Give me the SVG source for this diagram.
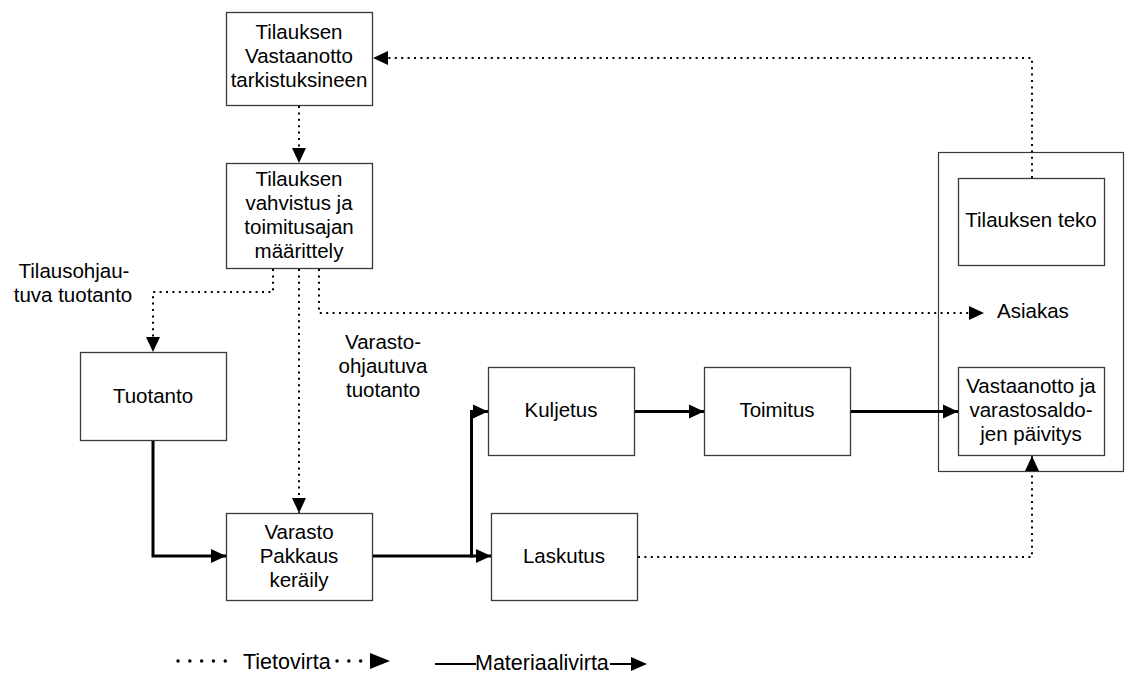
<svg xmlns="http://www.w3.org/2000/svg" width="1125" height="674" viewBox="0 0 1125 674">
  <style>
    .box { fill: #ffffff; stroke: #3a3a3a; stroke-width: 1.3; }
    .frame { fill: none; stroke: #3a3a3a; stroke-width: 1.2; }
    .lbl { font-family: "Liberation Sans", Arial, sans-serif; font-size: 20.5px; fill: #000; text-anchor: middle; }
    .lblL { font-family: "Liberation Sans", Arial, sans-serif; font-size: 20.5px; fill: #000; }
    .leg { font-family: "Liberation Sans", Arial, sans-serif; font-size: 21.5px; fill: #000; }
    .info { fill: none; stroke: #000; stroke-width: 2; stroke-dasharray: 2 4.4; }
    .mat { fill: none; stroke: #000; stroke-width: 3; }
  </style>
  <defs>
    <marker id="arrow" markerUnits="userSpaceOnUse" markerWidth="16" markerHeight="15" refX="15" refY="7.5" orient="auto">
      <path d="M0,0.5 L15,7.5 L0,14.5 z" fill="#000"/>
    </marker>
  </defs>

  <rect width="1125" height="674" fill="#ffffff"/>

  <!-- customer frame -->
  <g id="asiakas">
    <rect class="frame" x="938.5" y="152.5" width="185" height="319"/>
    <text class="lblL" x="997" y="318">Asiakas</text>
  </g>

  <g id="vastaanotto-tarkistus">
    <rect class="box" x="226.5" y="12.5" width="146" height="93"/>
    <text class="lbl" x="299" y="39">Tilauksen</text>
    <text class="lbl" x="299" y="63">Vastaanotto</text>
    <text class="lbl" x="299" y="87">tarkistuksineen</text>
  </g>

  <g id="vahvistus">
    <rect class="box" x="226.5" y="163.5" width="146" height="105"/>
    <text class="lbl" x="299" y="186">Tilauksen</text>
    <text class="lbl" x="299" y="210">vahvistus ja</text>
    <text class="lbl" x="299" y="234">toimitusajan</text>
    <text class="lbl" x="299" y="258">määrittely</text>
  </g>

  <g id="tuotanto">
    <rect class="box" x="80.5" y="352.5" width="146" height="88"/>
    <text class="lbl" x="153" y="403">Tuotanto</text>
  </g>

  <g id="varasto">
    <rect class="box" x="226.5" y="513.5" width="146" height="87"/>
    <text class="lbl" x="299" y="539">Varasto</text>
    <text class="lbl" x="299" y="563">Pakkaus</text>
    <text class="lbl" x="299" y="587">keräily</text>
  </g>

  <g id="kuljetus">
    <rect class="box" x="488.5" y="367.5" width="146" height="88"/>
    <text class="lbl" x="561" y="417">Kuljetus</text>
  </g>

  <g id="toimitus">
    <rect class="box" x="704.5" y="367.5" width="146" height="88"/>
    <text class="lbl" x="777" y="417">Toimitus</text>
  </g>

  <g id="laskutus">
    <rect class="box" x="491.5" y="513.5" width="146" height="87"/>
    <text class="lbl" x="564" y="563">Laskutus</text>
  </g>

  <g id="tilauksen-teko">
    <rect class="box" x="958.5" y="178.5" width="146" height="87"/>
    <text class="lbl" x="1031" y="227">Tilauksen teko</text>
  </g>

  <g id="vastaanotto-paivitys">
    <rect class="box" x="958.5" y="367.5" width="146" height="88"/>
    <text class="lbl" x="1031" y="393">Vastaanotto ja</text>
    <text class="lbl" x="1031" y="417">varastosaldo-</text>
    <text class="lbl" x="1031" y="441">jen päivitys</text>
  </g>

  <!-- free-standing labels -->
  <g id="labels">
    <text class="lbl" x="74" y="278">Tilausohjau-</text>
    <text class="lbl" x="73" y="302">tuva tuotanto</text>
    <text class="lbl" x="383" y="349">Varasto-</text>
    <text class="lbl" x="383" y="373">ohjautuva</text>
    <text class="lbl" x="383" y="397">tuotanto</text>
  </g>

  <g id="connectors">
    <!-- information flows (dotted) -->
    <path class="info" d="M1032,178 V58 H373" marker-end="url(#arrow)"/>
    <path class="info" d="M299,106 V163" marker-end="url(#arrow)"/>
    <path class="info" d="M273,269 V292 H153 V352" marker-end="url(#arrow)"/>
    <path class="info" d="M299,269 V513" marker-end="url(#arrow)"/>
    <path class="info" d="M319,269 V313 H984" marker-end="url(#arrow)"/>
    <path class="info" d="M638,557 H1032 V456" marker-end="url(#arrow)"/>

    <!-- material flows (solid) -->
    <path class="mat" d="M153,441 V556 H226" marker-end="url(#arrow)"/>
    <path class="mat" d="M373,556 H471.5 V411.5 H488" marker-end="url(#arrow)"/>
    <path class="mat" d="M470,556 H491" marker-end="url(#arrow)"/>
    <path class="mat" d="M635,411.5 H704" marker-end="url(#arrow)"/>
    <path class="mat" d="M851,411.5 H958" marker-end="url(#arrow)"/>
  </g>

  <!-- legend -->
  <g id="legend">
    <path d="M178,661 H226" fill="none" stroke="#000" stroke-width="3.4" stroke-linecap="round" stroke-dasharray="0.1 11.7"/>
    <text class="leg" x="243" y="669">Tietovirta</text>
    <path d="M337,661 H372" fill="none" stroke="#000" stroke-width="3.4" stroke-linecap="round" stroke-dasharray="0.1 11.7"/>
    <path d="M370,653 L390,661 L370,669 z" fill="#000"/>
    <path d="M435,664 H476" fill="none" stroke="#000" stroke-width="2"/>
    <text class="leg" x="475" y="670">Materiaalivirta</text>
    <path d="M610,664 H636" fill="none" stroke="#000" stroke-width="2"/>
    <path d="M631,657 L647,664 L631,671 z" fill="#000"/>
  </g>
</svg>
